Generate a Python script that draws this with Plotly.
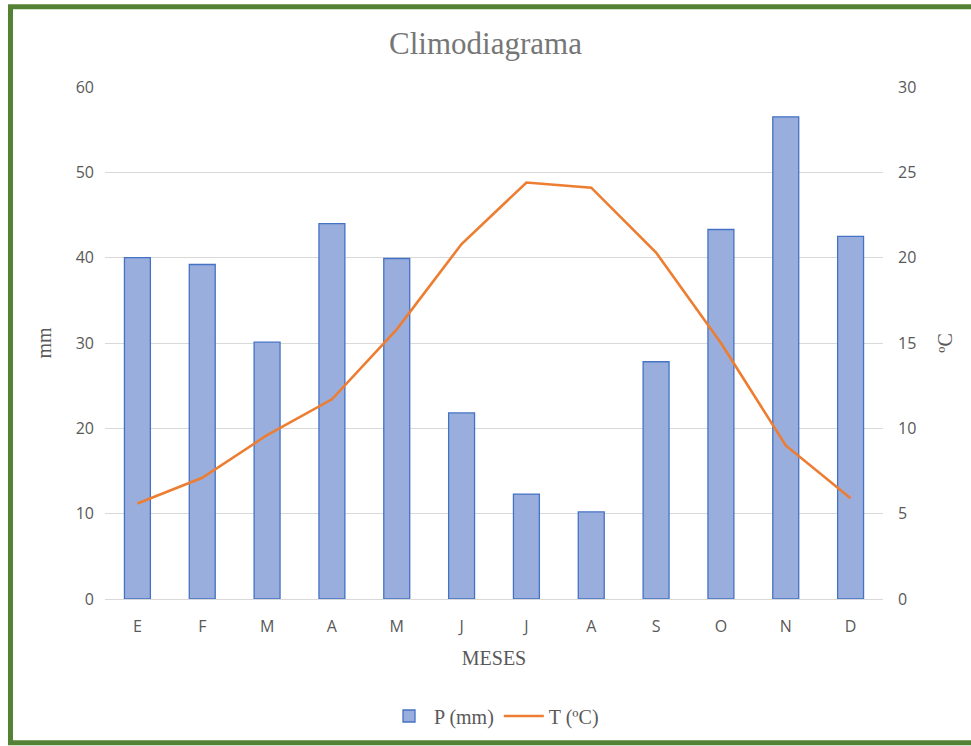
import plotly.graph_objects as go

# -----------------------------------------------------------------------------
# Data
# -----------------------------------------------------------------------------
meses = ["E", "F", "M", "A", "M", "J", "J", "A", "S", "O", "N", "D"]
precip_mm = [40.0, 39.2, 30.1, 44.0, 39.9, 21.8, 12.3, 10.2, 27.8, 43.3, 56.5, 42.5]
temp_c = [5.6, 7.1, 9.6, 11.7, 15.8, 20.8, 24.4, 24.1, 20.3, 15.0, 9.0, 5.9]
mm_ticks = [0, 10, 20, 30, 40, 50, 60]
c_ticks = [0, 5, 10, 15, 20, 25, 30]

pos = list(range(len(meses)))

# plot area in pixels (used for the frame)
W, H = 971, 746
L, R, T, B = 105, 88, 87, 146
pw, ph = W - L - R, H - T - B


def px_x(v):
    return (v - L) / pw


def px_y(v):
    return (H - B - v) / ph


SERIF = "Liberation Serif, Times New Roman, serif"
SANS = "Open Sans, Liberation Sans, sans-serif"
GREY = "#595959"

fig = go.Figure()

fig.add_trace(
    go.Bar(
        x=pos, y=precip_mm, name="P (mm)",
        width=0.4,
        marker=dict(color="#9aaede", line=dict(color="#4472c4", width=1.3)),
    )
)

fig.add_trace(
    go.Scatter(
        x=pos, y=temp_c, name="T (ºC)", yaxis="y2", mode="lines",
        line=dict(color="#ed7d31", width=2.6),
    )
)

fig.update_layout(
    width=W, height=H,
    margin=dict(l=L, r=R, t=T, b=B),
    paper_bgcolor="white", plot_bgcolor="white",
    title=dict(
        text="Climodiagrama", x=0.5, xanchor="center", y=1 - 43 / H, yanchor="middle",
        font=dict(family=SERIF, size=31, color="#767676"),
    ),
    xaxis=dict(
        range=[-0.5, 11.5], tickvals=pos, ticktext=meses,
        showgrid=False, showline=True, linecolor="#d9d9d9", linewidth=1,
        ticks="", ticklabelstandoff=13,
        tickfont=dict(family=SANS, size=16, color=GREY),
        title=dict(text="MESES", font=dict(family=SERIF, size=20, color=GREY), standoff=14),
    ),
    yaxis=dict(
        range=[0, 60], tickvals=mm_ticks, showgrid=True, gridcolor="#d9d9d9",
        zeroline=False, ticks="", ticklabelstandoff=10,
        tickfont=dict(family=SANS, size=16, color=GREY),
        title=dict(text="mm", font=dict(family=SERIF, size=20, color=GREY), standoff=18),
    ),
    yaxis2=dict(
        range=[0, 30], tickvals=c_ticks, overlaying="y", side="right",
        showgrid=False, zeroline=False, ticks="", ticklabelstandoff=14,
        tickfont=dict(family=SANS, size=16, color=GREY),
        title=dict(text="ºC", font=dict(family=SERIF, size=20, color=GREY), standoff=22),
    ),
    legend=dict(
        orientation="h", x=0.5, xanchor="center", y=px_y(716), yanchor="middle",
        font=dict(family=SERIF, size=20, color=GREY),
        itemwidth=40, tracegroupgap=0,
    ),
    bargap=0.6,
)

# green frame around the chart
fig.add_shape(
    type="rect", xref="paper", yref="paper",
    x0=px_x(10.5), x1=px_x(980), y0=px_y(744), y1=px_y(6.5),
    line=dict(color="#548235", width=5), fillcolor="rgba(0,0,0,0)", layer="above",
)

fig.write_html(
    "out.html",
    config={"displayModeBar": False},
    post_script="document.body.style.margin='0';",
)
